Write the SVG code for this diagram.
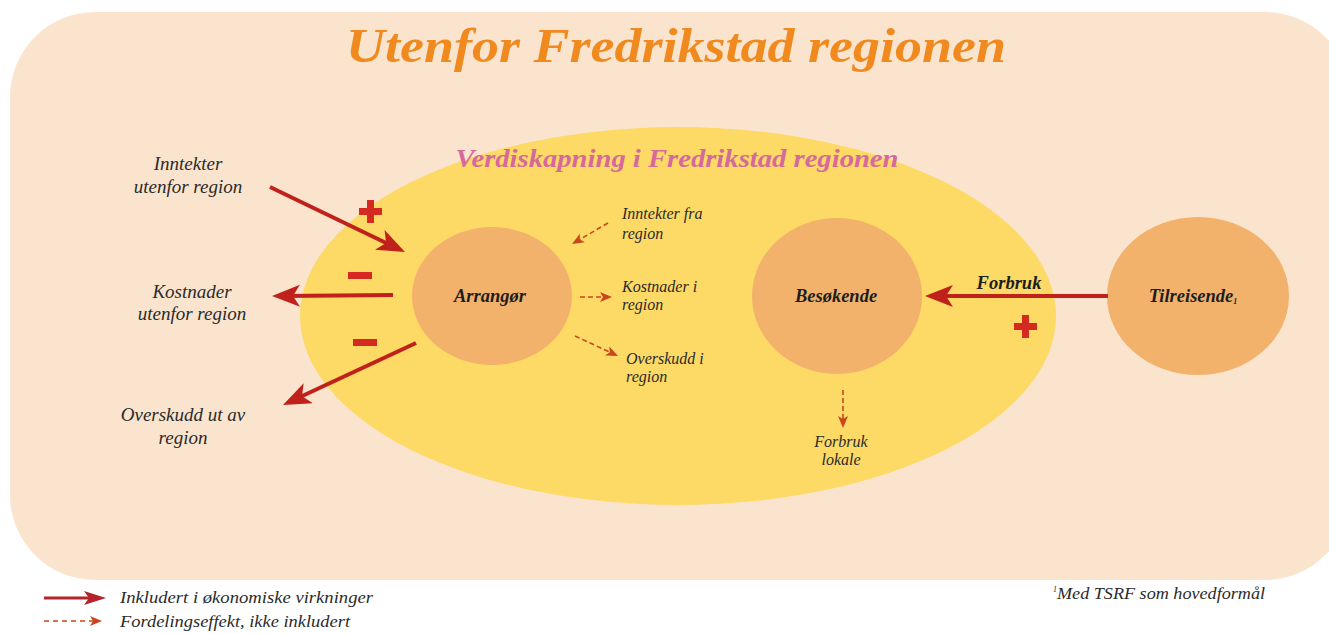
<svg xmlns="http://www.w3.org/2000/svg" width="1329" height="634" viewBox="0 0 1329 634">
<style>
.lbl{font-family:"Liberation Serif","DejaVu Serif",serif;font-style:italic;font-size:19px;fill:#2b2b2b}
.sm{font-family:"Liberation Serif","DejaVu Serif",serif;font-style:italic;font-size:16px;fill:#2b2b2b}
.node{font-family:"Liberation Serif","DejaVu Serif",serif;font-style:italic;font-weight:bold;font-size:18.5px;fill:#1e1e1e}
.solid{stroke:#c0211b;stroke-width:4;fill:none}
.dash{stroke:#c8471e;stroke-width:1.6;stroke-dasharray:5 3;fill:none}
.sign{fill:#d42a22}
.circ{fill:#f2b26c}
</style>
<defs>
<marker id="hs" markerUnits="userSpaceOnUse" markerWidth="30" markerHeight="24" refX="18" refY="11" orient="auto"><path d="M0,0 L28,11 L0,22 L7,11 z" fill="#c0211b"/></marker>
<marker id="hd" markerUnits="userSpaceOnUse" markerWidth="14" markerHeight="12" refX="8" refY="5" orient="auto"><path d="M0,0 L12,5 L0,10 L3,5 z" fill="#c8471e"/></marker>
<marker id="hl" markerUnits="userSpaceOnUse" markerWidth="24" markerHeight="16" refX="14" refY="7" orient="auto"><path d="M0,0 L22,7 L0,14 L5,7 z" fill="#b3242b"/></marker>
</defs>
<rect x="10" y="12" width="1340" height="568" rx="85" ry="85" fill="#fbe4cd"/>
<text x="676" y="62" text-anchor="middle" textLength="660" lengthAdjust="spacingAndGlyphs" font-family="Liberation Serif, DejaVu Serif, serif" font-style="italic" font-weight="bold" font-size="48" fill="#f08a1f">Utenfor Fredrikstad regionen</text>
<g id="region">
<ellipse cx="678" cy="316" rx="378" ry="189" fill="#fdd966"/>
<text x="677" y="167" text-anchor="middle" textLength="443" lengthAdjust="spacingAndGlyphs" font-family="Liberation Serif, DejaVu Serif, serif" font-style="italic" font-weight="bold" font-size="25" fill="#d6699c">Verdiskapning i Fredrikstad regionen</text>
</g>
<g id="arrangor"><ellipse class="circ" cx="492" cy="296" rx="80" ry="69"/><text class="node" x="490" y="302" text-anchor="middle">Arrangør</text></g>
<g id="besokende"><ellipse class="circ" cx="837" cy="296" rx="85" ry="78"/><text class="node" x="836" y="302" text-anchor="middle">Besøkende</text></g>
<g id="tilreisende"><ellipse class="circ" cx="1198" cy="296" rx="91" ry="79"/><text class="node" x="1193" y="302" text-anchor="middle">Tilreisende<tspan font-size="8" dy="2">1</tspan></text></g>
<g id="inntekter-ut"><text class="lbl" x="188" y="170" text-anchor="middle">Inntekter</text><text class="lbl" x="188" y="193" text-anchor="middle">utenfor region</text></g>
<g id="kostnader-ut"><text class="lbl" x="192" y="298" text-anchor="middle">Kostnader</text><text class="lbl" x="192" y="320" text-anchor="middle">utenfor region</text></g>
<g id="overskudd-ut"><text class="lbl" x="183" y="421" text-anchor="middle">Overskudd ut av</text><text class="lbl" x="183" y="444" text-anchor="middle">region</text></g>
<g id="inntekter-fra"><text class="sm" x="622" y="219">Inntekter fra</text><text class="sm" x="622" y="239">region</text></g>
<g id="kostnader-i"><text class="sm" x="622" y="292">Kostnader i</text><text class="sm" x="622" y="310">region</text></g>
<g id="overskudd-i"><text class="sm" x="626" y="364">Overskudd i</text><text class="sm" x="626" y="382">region</text></g>
<g id="forbruk-lokale"><text class="sm" x="841" y="447" text-anchor="middle" font-size="15">Forbruk</text><text class="sm" x="841" y="465" text-anchor="middle" font-size="15">lokale</text></g>
<g id="connectors">
<line class="solid" x1="270" y1="187" x2="396" y2="247.7" marker-end="url(#hs)"/>
<line class="solid" x1="393" y1="295" x2="282" y2="296" marker-end="url(#hs)"/>
<line class="solid" x1="416" y1="343" x2="292" y2="400.8" marker-end="url(#hs)"/>
<line class="solid" x1="1108" y1="296" x2="935" y2="296" marker-end="url(#hs)"/>
<text class="node" x="1009" y="289" text-anchor="middle" font-size="17.5">Forbruk</text>
<line class="dash" x1="608" y1="223" x2="575.5" y2="242" marker-end="url(#hd)"/>
<line class="dash" x1="580" y1="297" x2="608" y2="297" marker-end="url(#hd)"/>
<line class="dash" x1="575" y1="336" x2="614.4" y2="354.3" marker-end="url(#hd)"/>
<line class="dash" x1="843" y1="390" x2="843" y2="424" marker-end="url(#hd)"/>
</g>
<g id="signs">
<path class="sign" d="M367,200 h7 v8 h8 v7 h-8 v8 h-7 v-8 h-8 v-7 h8 z"/>
<path class="sign" d="M1022,315 h7 v8 h8 v7 h-8 v8 h-7 v-8 h-8 v-7 h8 z"/>
<rect class="sign" x="348" y="272" width="24" height="7"/>
<rect class="sign" x="353" y="339" width="24" height="7"/>
</g>
<g id="legend">
<line x1="44" y1="598" x2="98" y2="598" stroke="#b3242b" stroke-width="3" marker-end="url(#hl)"/>
<text class="sm" x="120" y="603" font-size="17" textLength="253" lengthAdjust="spacingAndGlyphs">Inkludert i økonomiske virkninger</text>
<line x1="44" y1="621" x2="98" y2="621" stroke="#c8471e" stroke-width="1.5" stroke-dasharray="5 4" marker-end="url(#hd)"/>
<text class="sm" x="120" y="627" font-size="17" textLength="230" lengthAdjust="spacingAndGlyphs">Fordelingseffekt, ikke inkludert</text>
<text class="sm" x="1053" y="599" font-size="17"><tspan font-size="8" dy="-7">1</tspan><tspan dy="7" textLength="208" lengthAdjust="spacingAndGlyphs">Med TSRF som hovedformål</tspan></text>
</g>
</svg>
